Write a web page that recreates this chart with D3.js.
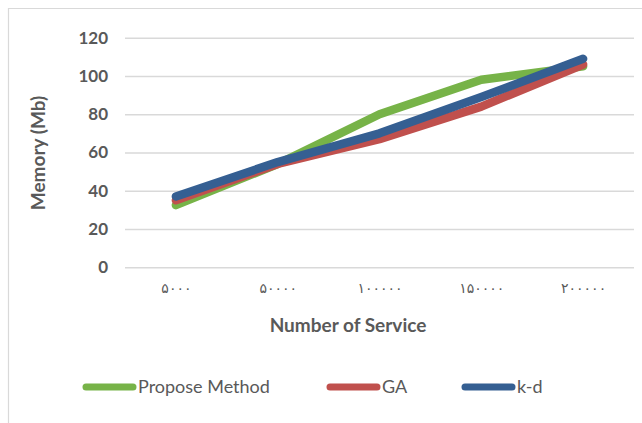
<!DOCTYPE html>
<html><head><meta charset="utf-8">
<script src="https://cdn.jsdelivr.net/npm/d3@7"></script>
<style>
html,body{margin:0;padding:0;background:#fff;}
svg{display:block;}
text{font-family:Lato,"Open Sans",sans-serif;}
</style></head>
<body>
<svg id="c" width="642" height="423"></svg>
<script>
const categories = ["۵۰۰۰","۵۰۰۰۰","۱۰۰۰۰۰","۱۵۰۰۰۰","۲۰۰۰۰۰"];
const proposeMethod = [32.5, 54, 80, 98, 105];
const ga = [35, 54, 67, 84, 106];
const kd = [37, 55, 70, 89, 109];
const yTicks = [0,20,40,60,80,100,120];
const seriesNames = ["Propose Method","GA","k-d"];
const seriesColors = ["#77B348","#C0504D","#355F92"];

const svg = d3.select("#c");
// chart border (left & top)
svg.append("path").attr("d","M8.5,423 V8.5 H642").attr("fill","none").attr("stroke","#d9d9d9").attr("stroke-width",1.2);

const x = d3.scalePoint().domain(categories).range([125,634]).padding(0.5);
const y = d3.scaleLinear().domain([0,120]).range([267.3,37.7]);

// gridlines
const yAxis = d3.axisLeft(y).tickValues(yTicks).tickSize(-(634-125)).tickPadding(17);
const gy = svg.append("g").attr("transform","translate(125,0)").call(yAxis);
gy.select(".domain").remove();
gy.selectAll(".tick line").attr("stroke","#d9d9d9").attr("stroke-width",1.5);
gy.selectAll(".tick text").attr("fill","#595959").attr("font-size",17).attr("font-weight","bold")
  .style("font-family","Lato,'Open Sans',sans-serif");

const xAxis = d3.axisBottom(x).tickSize(0).tickPadding(0);
const gx = svg.append("g").attr("transform","translate(0,283)").call(xAxis);
gx.select(".domain").remove();
gx.selectAll(".tick text").attr("fill","#595959").attr("font-size",14).attr("letter-spacing","1.5px")
  .style("font-family","'DejaVu Sans',sans-serif");

// axis titles
svg.append("text").attr("x",348).attr("y",332).attr("text-anchor","middle")
  .attr("font-size",19).attr("font-weight","bold").attr("fill","#595959").text("Number of Service");
svg.append("text").attr("transform","translate(45,153) rotate(-90)").attr("text-anchor","middle")
  .attr("font-size",19).attr("font-weight","bold").attr("fill","#595959").text("Memory (Mb)");

// lines
const allSeries = [proposeMethod, ga, kd];
const line = d3.line().x((d,i)=>x(categories[i])).y(d=>y(d));
allSeries.forEach((s,k)=>{
  svg.append("path").attr("d",line(s)).attr("fill","none").attr("stroke",seriesColors[k])
    .attr("stroke-width",8.5).attr("stroke-linecap","round").attr("stroke-linejoin","round");
});

// legend
const legX = [83,327,462];
seriesNames.forEach((n,k)=>{
  svg.append("line").attr("x1",legX[k]+3).attr("x2",legX[k]+50).attr("y1",387).attr("y2",387)
    .attr("stroke",seriesColors[k]).attr("stroke-width",7).attr("stroke-linecap","round");
  svg.append("text").attr("x",legX[k]+55).attr("y",393).attr("font-size",18).attr("fill","#595959").text(n);
});
</script>
</body></html>
